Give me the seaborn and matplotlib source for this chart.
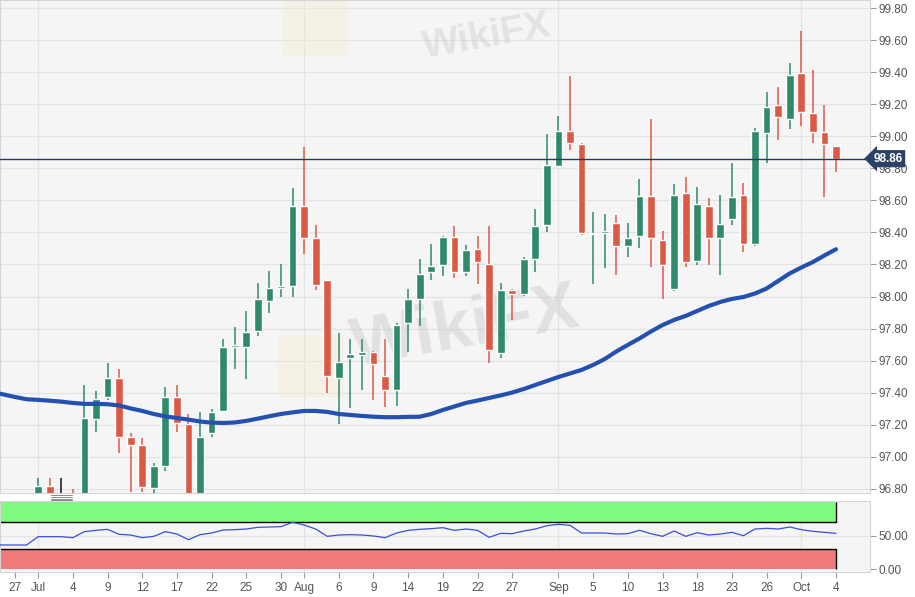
import numpy as np
import pandas as pd
import matplotlib
matplotlib.use('Agg')
import matplotlib.pyplot as plt
import matplotlib.transforms as mtrans
from matplotlib.patches import FancyBboxPatch
import seaborn as sns

sns.set_style('whitegrid')
plt.rcParams['font.family'] = ['Liberation Sans', 'DejaVu Sans']

# trading days shown on the axis (Jun 25 .. Oct 4, 2019)
days = pd.bdate_range('2019-06-25', '2019-10-04')

# daily candles, Jul 1 .. Oct 4
candle_start = '2019-07-01'
opens = [96.70, 96.82, 96.74, 96.76, 96.72, 97.236, 97.375, 97.494, 97.122, 97.072,
         96.804, 96.943, 97.371, 97.203, 96.74, 97.147, 97.286, 97.683, 97.683, 97.785,
         97.974, 98.055, 98.065, 98.565, 98.363, 98.103, 97.494, 97.615, 97.635, 97.654,
         97.504, 97.417, 97.837, 97.987, 98.155, 98.196, 98.369, 98.155, 98.294, 98.203,
         97.646, 98.041, 98.016, 98.234, 98.446, 98.814, 99.033, 98.952, 98.388, 98.394,
         98.461, 98.316, 98.376, 98.627, 98.353, 98.045, 98.644, 98.224, 98.565, 98.363,
         98.483, 98.634, 98.326, 99.022, 99.195, 99.106, 99.393, 99.147, 99.025, 98.941]
highs = [96.87, 96.87, 96.87, 96.80, 97.45, 97.413, 97.583, 97.546, 97.147, 97.116,
         96.964, 97.434, 97.448, 97.267, 97.282, 97.297, 97.733, 97.812, 97.912, 98.083,
         98.161, 98.201, 98.675, 98.933, 98.446, 98.103, 97.775, 97.733, 97.733, 97.66,
         97.733, 97.837, 98.045, 98.232, 98.328, 98.378, 98.44, 98.321, 98.378, 98.44,
         98.083, 98.045, 98.249, 98.544, 99.014, 99.126, 99.376, 98.955, 98.529, 98.515,
         98.508, 98.461, 98.731, 99.106, 98.41, 98.702, 98.744, 98.681, 98.613, 98.633,
         98.831, 98.706, 99.054, 99.274, 99.305, 99.455, 99.657, 99.413, 99.195, 98.94]
lows = [96.60, 96.65, 96.62, 96.70, 96.70, 97.155, 97.355, 97.022, 96.783, 96.783,
        96.776, 96.914, 97.157, 96.70, 96.70, 97.122, 97.28, 97.546, 97.484, 97.754,
        97.895, 97.999, 98.00, 98.265, 98.041, 97.40, 97.205, 97.303, 97.417, 97.355,
        97.313, 97.317, 97.656, 97.816, 98.103, 98.128, 98.114, 98.128, 98.078, 97.583,
        97.615, 97.854, 98.005, 98.151, 98.404, 98.806, 98.914, 98.384, 98.078, 98.176,
        98.134, 98.249, 98.301, 98.183, 97.983, 98.035, 98.183, 98.195, 98.197, 98.134,
        98.446, 98.28, 98.316, 98.831, 98.977, 99.045, 99.064, 98.956, 98.623, 98.779]
closes = [96.82, 96.72, 96.74, 96.72, 97.24, 97.361, 97.494, 97.126, 97.074, 96.814,
          96.943, 97.371, 97.209, 96.74, 97.122, 97.282, 97.683, 97.695, 97.781, 97.983,
          98.051, 98.065, 98.565, 98.363, 98.072, 97.504, 97.594, 97.642, 97.656, 97.577,
          97.417, 97.822, 97.983, 98.141, 98.19, 98.373, 98.155, 98.29, 98.213, 97.666,
          98.041, 98.016, 98.232, 98.442, 98.821, 99.033, 98.956, 98.394, 98.394, 98.41,
          98.316, 98.363, 98.627, 98.363, 98.197, 98.634, 98.216, 98.575, 98.363, 98.452,
          98.623, 98.326, 99.033, 99.184, 99.117, 99.382, 99.153, 99.025, 98.952, 98.856]

# moving average, Jun 25 .. Oct 4
sma = [97.404, 97.389, 97.373, 97.359, 97.355, 97.350, 97.344, 97.336, 97.330, 97.330,
       97.328, 97.320, 97.302, 97.286, 97.267, 97.252, 97.242, 97.232, 97.220, 97.213,
       97.211, 97.214, 97.224, 97.238, 97.253, 97.267, 97.277, 97.286, 97.286, 97.280,
       97.267, 97.261, 97.255, 97.250, 97.247, 97.247, 97.249, 97.250, 97.267, 97.292,
       97.314, 97.336, 97.351, 97.367, 97.383, 97.401, 97.423, 97.448, 97.473, 97.498,
       97.520, 97.542, 97.573, 97.610, 97.657, 97.698, 97.738, 97.782, 97.822, 97.854,
       97.879, 97.910, 97.941, 97.966, 97.985, 97.997, 98.019, 98.050, 98.097, 98.144,
       98.181, 98.215, 98.256, 98.295]

# oscillator, Jun 25 .. Oct 4
rsi = [36, 36, 36, 36, 48.5, 48.5, 48.5, 47, 56, 58,
       59.5, 52, 51, 47, 49, 56, 52.5, 44, 51.5, 54,
       58.5, 59, 60, 62.5, 63, 63.5, 70, 66, 60, 49,
       51, 51.5, 51, 49.5, 47, 54, 58, 59.5, 60.5, 62,
       58, 60, 58, 47.5, 53.5, 53, 57, 60, 65, 67,
       65.5, 54, 54, 54, 52.5, 53, 58, 53, 49, 57,
       49, 54.5, 51, 52.5, 55, 50, 60, 61, 60, 63,
       59, 56.5, 55, 53.5]

last_price = 98.86
tick_days = ['2019-06-27', '2019-07-01', '2019-07-04', '2019-07-09', '2019-07-12',
             '2019-07-17', '2019-07-22', '2019-07-25', '2019-07-30', '2019-08-01',
             '2019-08-06', '2019-08-09', '2019-08-14', '2019-08-19', '2019-08-22',
             '2019-08-27', '2019-09-02', '2019-09-05', '2019-09-10', '2019-09-13',
             '2019-09-18', '2019-09-23', '2019-09-26', '2019-10-01', '2019-10-04']
tick_labels = ['27', 'Jul', '4', '9', '12', '17', '22', '25', '30', 'Aug', '6', '9', '14',
               '19', '22', '27', 'Sep', '5', '10', '13', '18', '23', '26', 'Oct', '4']
month_days = ['2019-07-01', '2019-08-01', '2019-09-02', '2019-10-01']

pos = np.arange(len(days))
cpos = pos[days.get_loc(pd.Timestamp(candle_start)):]
o, h, l, c = map(np.array, (opens, highs, lows, closes))
green, red = '#2f8a6c', '#dc5a45'
ccol = np.where(c > o, green, np.where(c < o, red, '#111111'))

bg = '#f5f5f6'
gridc = '#e3e3e6'
fig = plt.figure(figsize=(9.15, 5.97), dpi=100)
ax = fig.add_axes([0, 1 - 493 / 597, 870 / 915, 493 / 597])
ax2 = fig.add_axes([0, 1 - 572 / 597, 870 / 915, 71 / 597])
xl = (2 - 1.297, 2 + 73.94)

# main price panel
ax.set_facecolor(bg)
ax.vlines(cpos, l, h, colors=ccol, lw=1.1, zorder=2)
ax.bar(cpos, np.maximum(np.abs(c - o), 0.008), bottom=np.minimum(o, c), width=0.67,
       color=ccol, zorder=2)
sma_df = pd.DataFrame({'pos': pos, 'sma': sma})
sns.lineplot(data=sma_df, x='pos', y='sma', ax=ax, color='#2450b0', lw=3, zorder=3)
ax.axhline(last_price, color='#24395f', lw=1, zorder=4)

ax.set_xlim(*xl)
ax.set_ylim(96.774, 99.85)
ax.set_xticks([days.get_loc(pd.Timestamp(d)) for d in month_days])
ax.set_yticks(np.arange(96.8, 99.81, 0.2))
ax.yaxis.tick_right()
ax.yaxis.set_major_formatter(matplotlib.ticker.FormatStrFormatter('%.2f'))
ax.tick_params(axis='x', length=0, labelbottom=False)
ax.tick_params(axis='y', length=4, width=0.8, color='#999999', labelsize=8.5,
               labelcolor='#555555', pad=2, right=True)
ax.grid(True, color=gridc, lw=0.9)
ax.set_xlabel('')
ax.set_ylabel('')
for s in ax.spines.values():
    s.set_color('#d5d5d8')
    s.set_linewidth(0.8)

blend = mtrans.blended_transform_factory(ax.transAxes, ax.transData)
ax.text(1.004, last_price, f'{last_price:.2f}', transform=blend, color='white',
        fontsize=8.5, fontweight='bold', va='center', ha='left', zorder=6,
        bbox=dict(boxstyle='larrow,pad=0.22', fc='#2b4166', ec='none'))

# marker below the Jul 3 candle
mark = mtrans.blended_transform_factory(ax.transData, ax.transAxes)
j3 = days.get_loc(pd.Timestamp('2019-07-03'))
for k in range(4):
    yy = -0.0047 - k * 0.0034
    ax.plot([j3 - 0.9, j3 + 0.9], [yy, yy], color='#8a8a8a', lw=0.7,
            transform=mark, clip_on=False)

# watermark
ax.text(0.535, 0.335, 'WikiFX', transform=ax.transAxes, fontsize=50, fontweight='bold',
        color='#c9c9c9', alpha=0.45, rotation=10, ha='center', va='center', zorder=1)
ax.text(0.56, 0.925, 'WikiFX', transform=ax.transAxes, fontsize=28, fontweight='bold',
        color='#c9c9c9', alpha=0.4, rotation=10, ha='center', va='center', zorder=1)
for bx, by in [(0.325, 0.2), (0.33, 0.89)]:
    ax.add_patch(FancyBboxPatch((bx, by), 0.065, 0.115, boxstyle='round,pad=0.005',
                                transform=ax.transAxes, fc='#f6ebc6', ec='none',
                                alpha=0.3, zorder=1))

# oscillator panel
ax2.set_facecolor(bg)
last = pos[-1]
ax2.fill_between([pos[0], last], 70, 100, color='#7ffb7f', lw=0, zorder=1)
ax2.fill_between([pos[0], last], 0, 30, color='#f07b7b', lw=0, zorder=1)
ax2.plot([pos[0], last], [70, 70], color='black', lw=1, zorder=2)
ax2.plot([pos[0], last], [30, 30], color='black', lw=1, zorder=2)
ax2.vlines([last, last], [70, 0], [100, 30], color='black', lw=1, zorder=2)
rsi_df = pd.DataFrame({'pos': pos, 'rsi': rsi})
sns.lineplot(data=rsi_df, x='pos', y='rsi', ax=ax2, color='#3b4fd8', lw=0.9, zorder=3)
for d in month_days:
    ax2.axvline(days.get_loc(pd.Timestamp(d)), color=gridc, lw=0.9, zorder=0.5)

ax2.set_xlim(*xl)
ax2.set_ylim(-4.5, 102)
ax2.set_xticks([days.get_loc(pd.Timestamp(d)) for d in tick_days])
ax2.set_xticklabels(tick_labels)
ax2.set_yticks([0, 50])
ax2.set_yticklabels(['0.00', '50.00'])
ax2.yaxis.tick_right()
ax2.grid(False)
ax2.axhline(50, color=gridc, lw=0.9, zorder=0.5)
ax2.tick_params(axis='x', length=4, width=0.8, color='#999999', labelsize=8.5,
                labelcolor='#555555', pad=3, bottom=True)
ax2.tick_params(axis='y', length=4, width=0.8, color='#999999', labelsize=8.5,
                labelcolor='#555555', pad=2, right=True)
ax2.set_xlabel('')
ax2.set_ylabel('')
for s in ax2.spines.values():
    s.set_color('#d5d5d8')
    s.set_linewidth(0.8)

fig.savefig('out.png', dpi=100, facecolor='white')
